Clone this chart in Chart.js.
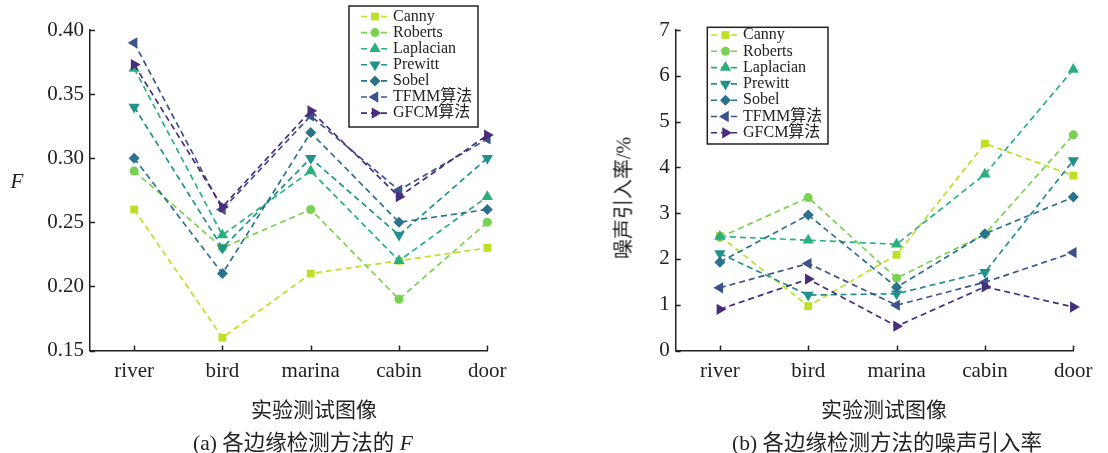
<!DOCTYPE html>
<html>
<head>
<meta charset="utf-8">
<script src="https://cdn.jsdelivr.net/npm/chart.js@4.4.1/dist/chart.umd.min.js"></script>
<style>
  body { margin: 0; background: #fff; width: 1108px; height: 453px; position: relative; overflow: hidden;
         font-family: "Liberation Serif", "Noto Sans CJK SC", serif; color: #222; }
  canvas { position: absolute; top: 0; }
  #chartA { left: 0; }
  #chartB { left: 554px; }
  .txt { position: absolute; white-space: nowrap; transform: translate(-50%, -50%); font-size: 21px; }
  .rot { transform: translate(-50%, -50%) rotate(-90deg); font-size: 20px; }
</style>
</head>
<body>
<canvas id="chartA" width="554" height="453"></canvas>
<canvas id="chartB" width="554" height="453"></canvas>

<div class="txt" style="left:17px; top:181px; font-style:italic;">F</div>
<div class="txt rot" style="left:622px; top:198px;">噪声引入率/%</div>
<div class="txt" style="left:314px; top:408px;">实验测试图像</div>
<div class="txt" style="left:303px; top:440px; font-size:21.5px;">(a) 各边缘检测方法的 <i>F</i></div>
<div class="txt" style="left:884px; top:408px;">实验测试图像</div>
<div class="txt" style="left:887px; top:440px; font-size:21.5px;">(b) 各边缘检测方法的噪声引入率</div>

<script>
const images = ['river', 'bird', 'marina', 'cabin', 'door'];
const methods = ['Canny', 'Roberts', 'Laplacian', 'Prewitt', 'Sobel', 'TFMM算法', 'GFCM算法'];

// (a) F
const fCanny     = [0.26, 0.16, 0.21, 0.22, 0.23];
const fRoberts   = [0.29, 0.23, 0.26, 0.19, 0.25];
const fLaplacian = [0.37, 0.24, 0.29, 0.22, 0.27];
const fPrewitt   = [0.34, 0.23, 0.30, 0.24, 0.30];
const fSobel     = [0.30, 0.21, 0.32, 0.25, 0.26];
const fTFMM      = [0.39, 0.26, 0.333, 0.275, 0.315];
const fGFCM      = [0.373, 0.262, 0.337, 0.27, 0.318];

// (b) noise rate %
const nCanny     = [2.50, 0.97, 2.09, 4.52, 3.82];
const nRoberts   = [2.47, 3.34, 1.58, 2.54, 4.71];
const nLaplacian = [2.49, 2.41, 2.32, 3.85, 6.14];
const nPrewitt   = [2.12, 1.21, 1.24, 1.71, 4.15];
const nSobel     = [1.93, 2.96, 1.38, 2.55, 3.35];
const nTFMM      = [1.37, 1.90, 0.99, 1.49, 2.14];
const nGFCM      = [0.90, 1.56, 0.53, 1.39, 0.95];

const fTicks = [0.15, 0.20, 0.25, 0.30, 0.35, 0.40];
const nTicks = [0, 1, 2, 3, 4, 5, 6, 7];

const colors = ['#bddf26', '#7ad151', '#2ab07f', '#21918c', '#2c728e', '#3b528b', '#472d7b'];
const shapes = [
  { style: 'rect', rot: 0, r: 5.5 },
  { style: 'circle', rot: 0, r: 4.5 },
  { style: 'triangle', rot: 0, r: 6.5 },
  { style: 'triangle', rot: 180, r: 6.5 },
  { style: 'rectRot', rot: 0, r: 5.5 },
  { style: 'triangle', rot: 270, r: 6.5 },
  { style: 'triangle', rot: 90, r: 6.5 }
];

const ink = '#222';
const serif = 'Liberation Serif';

function marker(ctx, shape, x, y, color) {
  const r = shape.r;
  ctx.save();
  ctx.fillStyle = color;
  ctx.beginPath();
  if (shape.style === 'rect') {
    const s = r * Math.SQRT1_2;
    ctx.rect(x - s, y - s, 2 * s, 2 * s);
  } else if (shape.style === 'circle') {
    ctx.arc(x, y, r, 0, Math.PI * 2);
  } else if (shape.style === 'rectRot') {
    ctx.moveTo(x, y - r); ctx.lineTo(x + r, y); ctx.lineTo(x, y + r); ctx.lineTo(x - r, y);
  } else {
    let a = shape.rot * Math.PI / 180;
    for (let k = 0; k < 3; k++) {
      const px = x + Math.sin(a) * r, py = y - Math.cos(a) * r;
      k ? ctx.lineTo(px, py) : ctx.moveTo(px, py);
      a += Math.PI * 2 / 3;
    }
  }
  ctx.closePath();
  ctx.fill();
  ctx.restore();
}

// inward tick marks + boxed legend
const decor = {
  id: 'decor',
  afterDraw(chart, args, opts) {
    const ctx = chart.ctx;
    const xs = chart.scales.x, ys = chart.scales.y;
    ctx.save();
    ctx.strokeStyle = ink;
    ctx.lineWidth = 1.5;
    ctx.beginPath();
    images.forEach((_, i) => {
      const px = Math.round(xs.getPixelForValue(i)) + 0.5;
      ctx.moveTo(px, ys.bottom); ctx.lineTo(px, ys.bottom - 5);
    });
    opts.yTicks.forEach(v => {
      const py = Math.round(ys.getPixelForValue(v)) + 0.5;
      ctx.moveTo(xs.left, py); ctx.lineTo(xs.left + 5, py);
    });
    ctx.stroke();

    const L = opts.legend;
    ctx.lineWidth = 1.5;
    ctx.strokeStyle = ink;
    ctx.strokeRect(L.x, L.y, L.w, L.h);
    ctx.font = '16px "' + serif + '", "Noto Sans CJK SC"';
    ctx.textBaseline = 'middle';
    ctx.fillStyle = ink;
    methods.forEach((m, i) => {
      const cy = L.row0 + i * L.step;
      ctx.save();
      ctx.strokeStyle = colors[i];
      ctx.lineWidth = 1.6;
      ctx.setLineDash([6, 4]);
      ctx.beginPath();
      ctx.moveTo(L.x1, cy); ctx.lineTo(L.x2, cy);
      ctx.stroke();
      ctx.restore();
      marker(ctx, shapes[i], (L.x1 + L.x2) / 2, cy, colors[i]);
      ctx.fillStyle = ink;
      ctx.fillText(m, L.tx, cy);
    });
    ctx.restore();
  }
};

function makeChart(id, series, yMin, yMax, yTicks, yFmt, plot, legend) {
  const datasets = series.map((vals, i) => ({
    label: methods[i],
    data: vals.map((v, k) => ({ x: k, y: v })),
    borderColor: colors[i],
    backgroundColor: colors[i],
    borderWidth: 1.7,
    borderDash: [6, 4],
    pointStyle: shapes[i].style,
    pointRotation: shapes[i].rot,
    pointRadius: shapes[i].r,
    pointBorderWidth: 0,
    pointBackgroundColor: colors[i],
    tension: 0,
    clip: false,
    order: series.length - i
  }));

  return new Chart(document.getElementById(id), {
    type: 'line',
    data: { datasets },
    plugins: [decor],
    options: {
      responsive: false,
      animation: false,
      devicePixelRatio: 1,
      layout: { padding: { left: 0, top: plot.top, right: 554 - plot.right, bottom: 0 } },
      plugins: {
        legend: { display: false },
        tooltip: { enabled: false },
        decor: { yTicks, legend }
      },
      scales: {
        x: {
          type: 'linear',
          min: -0.5,
          max: images.length - 1,
          afterBuildTicks: s => { s.ticks = images.map((_, i) => ({ value: i })); },
          afterFit: s => { s.height = 453 - plot.bottom; },
          ticks: {
            callback: v => images[v],
            font: { family: serif, size: 21 },
            color: ink,
            padding: 8,
            maxRotation: 0,
            autoSkip: false
          },
          grid: { display: false, drawTicks: false },
          border: { display: true, color: ink, width: 1.5 }
        },
        y: {
          min: yMin,
          max: yMax,
          afterBuildTicks: s => { s.ticks = yTicks.map(v => ({ value: v })); },
          afterFit: s => { s.width = plot.left; },
          ticks: {
            callback: yFmt,
            font: { family: serif, size: 21 },
            color: ink,
            padding: 6
          },
          grid: { display: false, drawTicks: false },
          border: { display: true, color: ink, width: 1.5 }
        }
      }
    }
  });
}

makeChart('chartA',
  [fCanny, fRoberts, fLaplacian, fPrewitt, fSobel, fTFMM, fGFCM],
  0.15, 0.40, fTicks, v => v.toFixed(2),
  { left: 90, right: 487.3, top: 30, bottom: 350.5 },
  { x: 349, y: 6, w: 129, h: 121, row0: 16.5, step: 16.1, x1: 361, x2: 389, tx: 393 });

makeChart('chartB',
  [nCanny, nRoberts, nLaplacian, nPrewitt, nSobel, nTFMM, nGFCM],
  0, 7, nTicks, v => String(v),
  { left: 121.7, right: 519.3, top: 30, bottom: 350.5 },
  { x: 153.3, y: 27.3, w: 120.7, h: 116.7, row0: 35, step: 16.3, x1: 157, x2: 186, tx: 189 });
</script>
</body>
</html>
